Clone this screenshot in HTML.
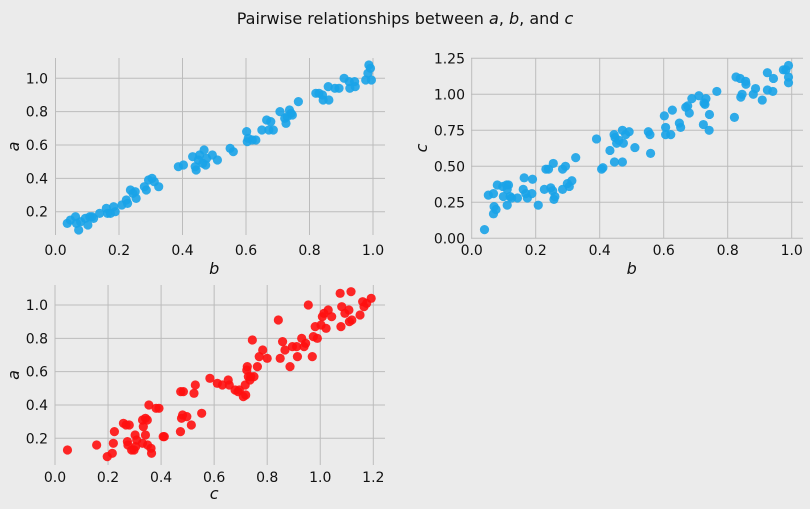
<!DOCTYPE html>
<html><head><meta charset="utf-8"><style>
body{margin:0;background:#ebebeb;}
svg{display:block;font-family:"DejaVu Sans","Liberation Sans",sans-serif;}
</style></head><body>
<svg id="fig" width="810" height="509" viewBox="0 0 810 509" xmlns="http://www.w3.org/2000/svg">
<rect width="810" height="509" fill="#ebebeb"/>
<text x="405" y="24" text-anchor="middle" font-size="16" fill="#111">Pairwise relationships between <tspan font-style="italic">a</tspan>, <tspan font-style="italic">b</tspan>, and <tspan font-style="italic">c</tspan></text>
</svg>
<script>
// Plot 1: b vs a
const p1B=[.037,.047,.063,.066,.073,.079,.094,.102,.108,.115,.12,.139,.16,.164,.173,.183,.188,.209,.223,.227,.236,.244,.251,.254,.28,.286,.293,.304,.311,.325,.387,.403,.432,.44,.443,.45,.454,.464,.468,.473,.476,.494,.51,.55,.56,.602,.604,.607,.62,.631,.65,.665,.672,.678,.686,.707,.722,.726,.73,.737,.742,.746,.765,.82,.83,.841,.843,.859,.861,.88,.893,.909,.925,.927,.942,.944,.977,.984,.987,.992,.995];
const p1A=[.13,.15,.17,.13,.09,.14,.16,.12,.17,.17,.16,.19,.22,.19,.19,.23,.20,.24,.27,.25,.33,.31,.32,.28,.35,.33,.39,.40,.38,.35,.47,.48,.53,.47,.45,.51,.54,.49,.57,.48,.52,.54,.51,.58,.56,.68,.62,.64,.63,.63,.69,.75,.69,.74,.69,.80,.76,.73,.77,.81,.79,.78,.86,.91,.91,.90,.87,.95,.87,.94,.94,1.00,.98,.94,.98,.95,.99,1.03,1.08,1.06,.99];
// Plot 2: b vs c
const p2B=[.04,.052,.068,.07,.068,.076,.08,.097,.099,.109,.111,.115,.111,.12,.125,.143,.161,.164,.169,.174,.188,.19,.208,.227,.232,.24,.247,.253,.255,.257,.26,.284,.284,.293,.299,.305,.313,.325,.39,.406,.41,.432,.445,.446,.448,.453,.46,.471,.471,.474,.481,.492,.51,.552,.557,.559,.602,.606,.606,.622,.627,.649,.653,.669,.675,.68,.688,.71,.724,.726,.729,.732,.742,.743,.766,.821,.826,.839,.841,.845,.856,.857,.88,.887,.908,.924,.924,.941,.943,.974,.982,.99,.99,.99];
const p2C=[.06,.30,.31,.22,.17,.20,.37,.36,.29,.37,.34,.37,.23,.29,.28,.28,.34,.42,.31,.28,.31,.41,.23,.34,.48,.48,.35,.33,.52,.27,.29,.34,.48,.50,.38,.36,.40,.56,.69,.48,.49,.61,.72,.53,.70,.66,.68,.75,.53,.66,.72,.74,.63,.74,.72,.59,.85,.77,.72,.72,.89,.80,.77,.91,.92,.87,.97,.99,.79,.94,.93,.97,.75,.86,1.02,.84,1.12,1.11,.98,1.00,1.09,1.07,1.00,1.04,.96,1.15,1.03,1.02,1.11,1.17,1.17,1.20,1.12,1.08];
// Plot 3: c vs a
const p3C=[.047,.157,.197,.216,.22,.224,.258,.268,.28,.273,.275,.289,.298,.302,.304,.308,.33,.333,.33,.341,.341,.348,.349,.354,.362,.364,.381,.392,.408,.412,.473,.474,.477,.481,.484,.497,.514,.524,.529,.553,.584,.612,.631,.653,.657,.679,.69,.695,.71,.717,.719,.723,.725,.729,.735,.738,.744,.75,.763,.77,.783,.8,.842,.849,.858,.867,.886,.895,.911,.914,.93,.939,.945,.955,.97,.974,.981,.989,1.003,1.008,1.014,1.022,1.03,1.043,1.075,1.078,1.081,1.093,1.108,1.11,1.119,1.116,1.15,1.16,1.165,1.175,1.192];
const p3A=[.13,.16,.09,.11,.17,.24,.29,.28,.28,.18,.16,.13,.13,.22,.15,.19,.31,.27,.17,.32,.22,.31,.16,.40,.14,.11,.38,.38,.21,.21,.24,.48,.32,.34,.48,.33,.28,.47,.52,.35,.56,.53,.52,.55,.52,.49,.48,.49,.45,.52,.46,.61,.63,.57,.55,.57,.79,.57,.63,.69,.73,.68,.91,.68,.78,.73,.63,.75,.75,.69,.80,.75,.77,1.00,.69,.81,.87,.80,.88,.93,.95,.86,.97,.93,1.07,.87,.99,.95,.97,.90,.91,1.08,.94,1.02,.99,1.01,1.04];
const ticks1X=["0.0","0.2","0.4","0.6","0.8","1.0"];
const ticks1Y=["0.2","0.4","0.6","0.8","1.0"];
const ticks2Y=["0.00","0.25","0.50","0.75","1.00","1.25"];
const ticks3X=["0.0","0.2","0.4","0.6","0.8","1.0","1.2"];

const NS="http://www.w3.org/2000/svg";
const svg=document.getElementById('fig');
function mk(tag,attrs,parent){const e=document.createElementNS(NS,tag);for(const k in attrs)e.setAttribute(k,attrs[k]);(parent||svg).appendChild(e);return e;}
function scale(d0,d1,p0,p1){return v=>p0+(v-d0)/(d1-d0)*(p1-p0);}

function panel(o){
  const g=mk('g',{});
  
  
  const sx=scale(o.xd[0],o.xd[1],o.xp[0],o.xp[1]);
  const sy=scale(o.yd[0],o.yd[1],o.yp[0],o.yp[1]);
  o.xt.forEach(t=>{const x=sx(+t);
    const l=mk('line',{x1:x,x2:x,y1:o.box[1],y2:o.box[3],stroke:'#bcbcbc','stroke-width':1},g);
    
    const tx=mk('text',{x:x,y:o.xtY,'text-anchor':'middle','font-size':14,fill:'#111'},g);tx.textContent=t;
    });
  o.yt.forEach(t=>{const y=sy(+t);
    const l=mk('line',{x1:o.box[0],x2:o.box[2],y1:y,y2:y,stroke:'#bcbcbc','stroke-width':1},g);
    
    const tx=mk('text',{x:o.ytX,y:y+5,'text-anchor':'end','font-size':14,fill:'#111'},g);tx.textContent=t;
    });
  o.xs.forEach((v,i)=>{const c=mk('circle',{cx:sx(v),cy:sy(o.ys[i]),r:4.6,fill:o.color,'fill-opacity':0.9},g);
    });
  const xl=mk('text',{x:(o.xp[0]+o.xp[1])/2,y:o.xlY,'text-anchor':'middle','font-size':16,'font-style':'italic',fill:'#111'},g);xl.textContent=o.xl;
  
  const cy=(o.box[1]+o.box[3])/2;
  const yl=mk('text',{x:o.ylX,y:cy,'text-anchor':'middle','font-size':16,'font-style':'italic',fill:'#111',transform:`rotate(-90 ${o.ylX} ${cy})`},g);yl.textContent=o.yl;
  
}
panel({name:'panel-b-vs-a',xs:p1B,ys:p1A,color:'#1aa3e8',xd:[0,1],xp:[55.5,373],yd:[0.2,1.0],yp:[211.7,78.3],box:[55,58,385,235],xt:ticks1X,yt:ticks1Y,xtY:255,ytX:48,xl:'b',xlY:274,yl:'a',ylX:19});
panel({name:'panel-b-vs-c',xs:p2B,ys:p2C,color:'#1aa3e8',xd:[0,1],xp:[471.7,791.7],yd:[0,1.25],yp:[238.3,58.3],box:[471,58,803,238],xt:ticks1X,yt:ticks2Y,xtY:255,ytX:465,xl:'b',xlY:274,yl:'c',ylX:427});
panel({name:'panel-c-vs-a',xs:p3C,ys:p3A,color:'#ff1010',xd:[0,1.2],xp:[55,373.3],yd:[0.2,1.0],yp:[438.3,305],box:[55,285,385,465],xt:ticks3X,yt:ticks1Y,xtY:482,ytX:48,xl:'c',xlY:499,yl:'a',ylX:19});
</script>
</body></html>
